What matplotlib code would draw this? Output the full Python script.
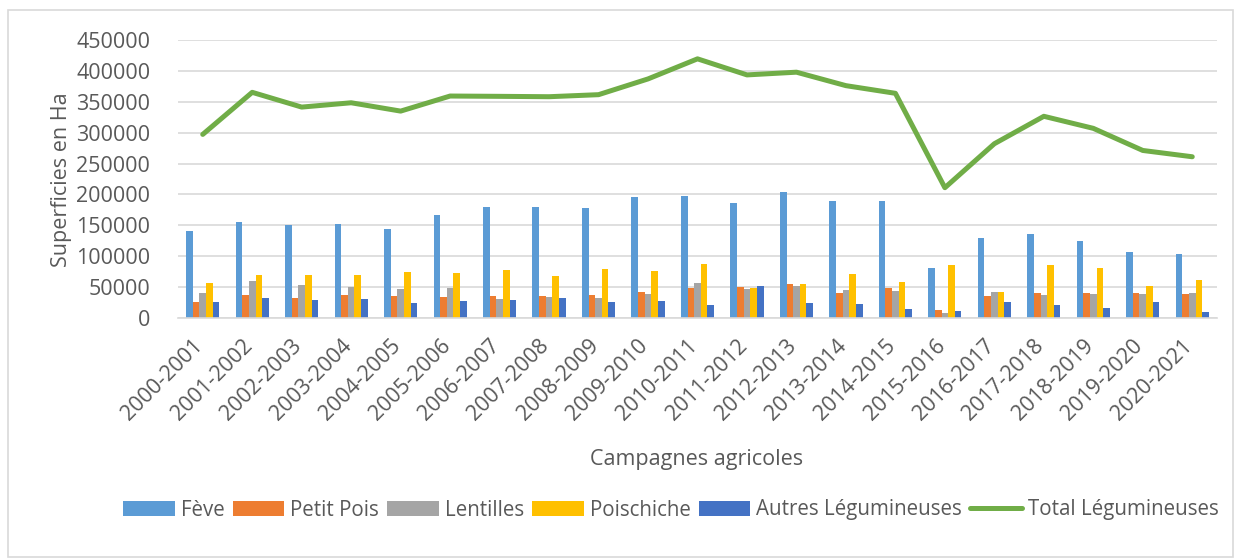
import matplotlib
matplotlib.use("Agg")
import matplotlib.pyplot as plt
import matplotlib.transforms as mtransforms
from matplotlib.patches import Rectangle
import numpy as np

campagnes = ["2000-2001", "2001-2002", "2002-2003", "2003-2004", "2004-2005", "2005-2006",
             "2006-2007", "2007-2008", "2008-2009", "2009-2010", "2010-2011", "2011-2012",
             "2012-2013", "2013-2014", "2014-2015", "2015-2016", "2016-2017", "2017-2018",
             "2018-2019", "2019-2020", "2020-2021"]
feve = [141000, 155300, 150000, 151600, 143500, 167100, 179100, 180100, 178000, 195300, 197900,
        185600, 203900, 189300, 189300, 80900, 129400, 135400, 124100, 106300, 103600]
petit_pois = [25400, 37200, 31900, 36700, 35100, 34000, 35600, 36100, 37700, 42100, 49000,
              50200, 54500, 40000, 48500, 13400, 35600, 40000, 40000, 40500, 38300]
lentilles = [40000, 59400, 52900, 50200, 47400, 48500, 30700, 33500, 32800, 38800, 56600,
             47400, 51800, 44800, 44200, 8100, 41600, 37700, 38800, 38800, 40000]
poischiche = [56100, 69600, 69100, 70100, 74900, 73300, 77200, 67500, 79300, 76500, 87400,
              49000, 55000, 71200, 58300, 86200, 42100, 85300, 80400, 51800, 62000]
autres = [25400, 32800, 29600, 31200, 24800, 27500, 28600, 32400, 25400, 27500, 21000,
          51800, 23800, 22700, 15000, 11300, 26400, 20500, 16200, 25900, 9200]
total = [297200, 365300, 341400, 348400, 334900, 359300, 358800, 358200, 361500, 387000, 419500,
         393500, 397900, 376100, 363700, 210900, 282100, 326500, 307000, 271200, 261000]

series = [("Fève", feve, "#5b9bd5"), ("Petit Pois", petit_pois, "#ed7d31"),
          ("Lentilles", lentilles, "#a5a5a5"), ("Poischiche", poischiche, "#ffc000"),
          ("Autres Légumineuses", autres, "#4472c4")]

plt.rcParams['font.family'] = ['Open Sans', 'DejaVu Sans']
txt = "#595959"

W, H = 1235, 559
fig = plt.figure(figsize=(W / 100, H / 100), dpi=100)
ax = fig.add_axes([178 / W, 1 - 318 / H, 1039 / W, 278 / H])

x = np.arange(len(campagnes))
w = 0.134
bars = []
for i, (name, vals, col) in enumerate(series):
    bars.append(ax.bar(x + (i - 2) * w, vals, width=w, color=col, label=name, zorder=2))
line, = ax.plot(x, total, color="#70ad47", lw=3.6, solid_capstyle="round",
                solid_joinstyle="round", label="Total Légumineuses", zorder=3)

ax.set_xlim(-0.5, len(campagnes) - 0.5)
ax.set_ylim(0, 450000)
ax.set_yticks(np.arange(0, 450001, 50000))
ax.set_yticklabels([str(v) for v in range(0, 450001, 50000)], color=txt, fontsize=15.5)
ax.yaxis.grid(True, color="#d9d9d9", lw=1.2, zorder=0)
ax.set_axisbelow(True)
for s in ["top", "right", "left"]:
    ax.spines[s].set_visible(False)
ax.spines["bottom"].set_color("#d9d9d9")
ax.spines["bottom"].set_linewidth(1.2)
ax.tick_params(axis="y", length=0, pad=20)
ax.tick_params(axis="x", length=0, pad=0)
ax.set_xticks(x)
offset = mtransforms.ScaledTranslation(-3 / 100, -25 / 100, fig.dpi_scale_trans)
labs = ax.set_xticklabels(campagnes, rotation=45, ha="right", va="center",
                          rotation_mode="anchor", color=txt, fontsize=15.5)
for l in labs:
    l.set_transform(l.get_transform() + offset)

fig.text(61 / W, 1 - 180 / H, "Superficies en Ha", rotation=90, ha="center", va="center",
         color=txt, fontsize=15.5)
fig.text(697 / W, 1 - 459 / H, "Campagnes agricoles", ha="center", va="center",
         color=txt, fontsize=15.5)

handles = [b for b in bars] + [line]
labels = [s[0] for s in series] + ["Total Légumineuses"]
fig.legend(handles, labels, loc="center", bbox_to_anchor=(671 / W, 1 - 510 / H), ncol=6,
           frameon=False, fontsize=14.8, labelcolor=txt, handlelength=2.5, handleheight=0.7,
           handletextpad=0.3, columnspacing=0.4, borderpad=0)

fig.add_artist(Rectangle((8 / W, 2 / H), 1225 / W, 547 / H, transform=fig.transFigure,
                         fill=False, edgecolor="#d9d9d9", lw=1.2))
fig.savefig("out.png", dpi=100)
